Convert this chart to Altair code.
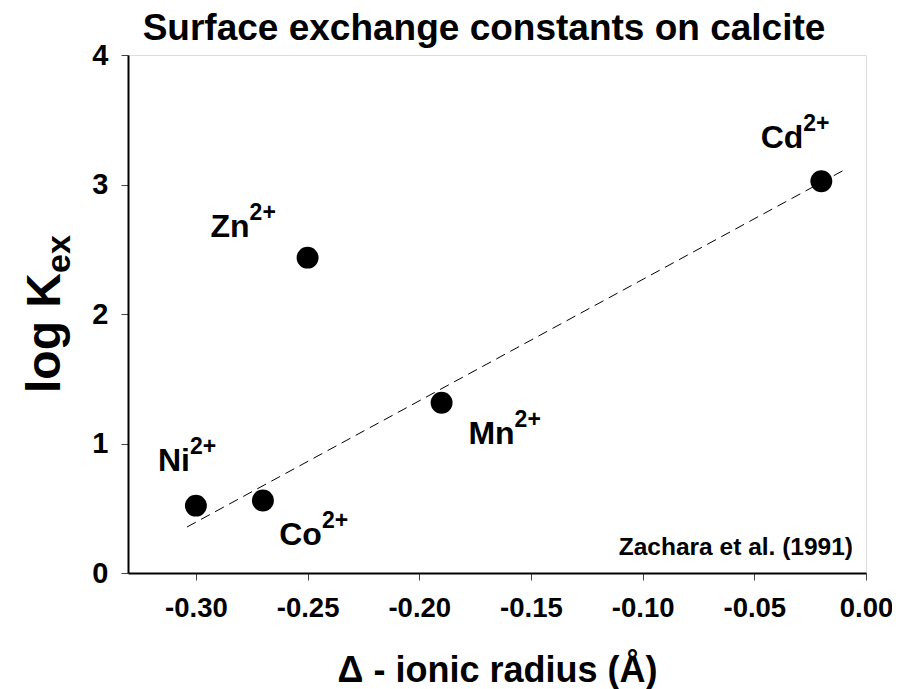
import altair as alt
import pandas as pd

# data
ions = ["Ni", "Co", "Zn", "Mn", "Cd"]
delta_r = [-0.30, -0.27, -0.25, -0.19, -0.02]
log_kex = [0.52, 0.56, 2.435, 1.315, 3.025]
fit_x = [-0.304, -0.010]
fit_y = [0.355, 3.11]
x_ticks = [-0.30, -0.25, -0.20, -0.15, -0.10, -0.05, 0.00]
y_ticks = [0, 1, 2, 3, 4]

# label pixel offsets (junction of base text and superscript) per ion
label_offsets = {"Ni": (-6, -35), "Co": (59, 45), "Zn": (-58, -21), "Mn": (73, 41), "Cd": (-18, -33)}

FONT = "Liberation Sans"
pts = pd.DataFrame({"ion": ions, "x": delta_r, "y": log_kex})
fit = pd.DataFrame({"x": fit_x, "y": fit_y})
one = pd.DataFrame({"k": [0]})

xs = alt.Scale(domain=[-0.3304, 0.0], nice=False, zero=False)
ys = alt.Scale(domain=[0, 4], nice=False)

xax = alt.Axis(values=x_ticks, labelExpr="replace(format(datum.value, '.2f'), '\u2212', '-')",
               title="Δ - ionic radius (Å)",
               titleFontSize=36, titleFont=FONT, titleFontWeight="bold", titleColor="black",
               titleX=369, titleY=108, titleBaseline="alphabetic", titleAlign="center",
               labelFontSize=27.5, labelFont=FONT, labelFontWeight="bold", labelColor="black",
               labelPadding=14, tickSize=7, tickColor="#444", domainColor="black", domainWidth=2,
               grid=False, labelFlush=False)
yax = alt.Axis(values=y_ticks, format="d", title=None,
               labelFontSize=29, labelFont=FONT, labelFontWeight="bold", labelColor="black",
               labelPadding=13, tickSize=7, tickColor="#444", domainColor="black", domainWidth=2,
               grid=False, labelFlush=False)

base = alt.Chart(pts)

points = base.mark_circle(size=480, color="black", opacity=1).encode(
    x=alt.X("x:Q", scale=xs, axis=xax),
    y=alt.Y("y:Q", scale=ys, axis=yax),
)

line = alt.Chart(fit).mark_line(color="black", strokeWidth=1, strokeDash=[10, 6]).encode(
    x=alt.X("x:Q", scale=xs),
    y=alt.Y("y:Q", scale=ys),
)

layers = [line, points]
for ion in ions:
    dx, dy = label_offsets[ion]
    sub = base.transform_filter(alt.datum.ion == ion)
    layers.append(sub.mark_text(align="right", baseline="alphabetic", dx=dx, dy=dy,
                                fontSize=32, font=FONT, fontWeight="bold", color="black").encode(
        x=alt.X("x:Q", scale=xs), y=alt.Y("y:Q", scale=ys), text="ion:N"))
    layers.append(sub.mark_text(align="left", baseline="alphabetic", dx=dx, dy=dy - 17,
                                fontSize=23, font=FONT, fontWeight="bold", color="black").encode(
        x=alt.X("x:Q", scale=xs), y=alt.Y("y:Q", scale=ys), text=alt.value("2+")))

ann = alt.Chart(one)
layers.append(ann.mark_text(align="right", baseline="alphabetic", fontSize=24.5, font=FONT,
                            fontWeight="bold", color="black").encode(
    x=alt.value(725), y=alt.value(500), text=alt.value("Zachara et al. (1991)")))
layers.append(ann.mark_text(align="center", baseline="alphabetic", fontSize=37, font=FONT,
                            fontWeight="bold", color="black").encode(
    x=alt.value(356), y=alt.value(-15), text=alt.value("Surface exchange constants on calcite")))
layers.append(ann.mark_text(align="right", baseline="alphabetic", angle=270, fontSize=48, font=FONT,
                            fontWeight="bold", color="black").encode(
    x=alt.value(-68), y=alt.value(218), text=alt.value("log K")))
layers.append(ann.mark_text(align="left", baseline="alphabetic", angle=270, fontSize=34, font=FONT,
                            fontWeight="bold", color="black").encode(
    x=alt.value(-58), y=alt.value(218), text=alt.value("ex")))

chart = alt.layer(*layers).properties(
    width=738, height=518,
    autosize=alt.AutoSizeParams(type="none"),
    padding={"left": 120, "top": 47, "right": 26, "bottom": 116},
).configure_view(
    fill="#FFFFCC", stroke="black", strokeWidth=1.5
).configure(background="white")

chart.save("out.html", embed_options={"renderer": "svg", "actions": False})
